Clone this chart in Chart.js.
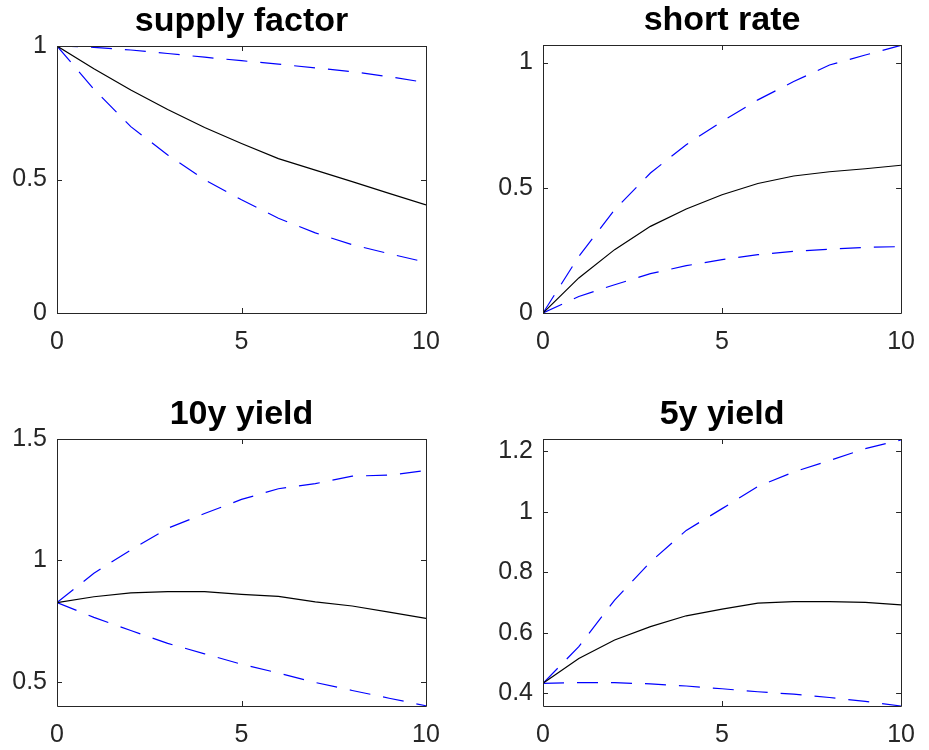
<!DOCTYPE html>
<html>
<head>
<meta charset="utf-8">
<script src="https://cdn.jsdelivr.net/npm/chart.js@4/dist/chart.umd.min.js"></script>
<style>
  html, body { margin: 0; padding: 0; background: #fff; }
  body { width: 929px; height: 750px; position: relative; overflow: hidden; }
  .panel { position: absolute; }
</style>
</head>
<body>
<div class="panel" style="left:0;top:0;width:465px;height:375px"><canvas id="c1"></canvas></div>
<div class="panel" style="left:465px;top:0;width:464px;height:375px"><canvas id="c2"></canvas></div>
<div class="panel" style="left:0;top:375px;width:465px;height:375px"><canvas id="c3"></canvas></div>
<div class="panel" style="left:465px;top:375px;width:464px;height:375px"><canvas id="c4"></canvas></div>
<script>
// horizon (x axis)
const horizon = [0, 1, 2, 3, 4, 5, 6, 7, 8, 9, 10];
const xTicks = [0, 5, 10];

// supply factor
const supplyMid   = [1, 0.915, 0.835, 0.762, 0.695, 0.635, 0.578, 0.535, 0.492, 0.448, 0.405];
const supplyUpper = [1, 0.995, 0.985, 0.972, 0.958, 0.945, 0.932, 0.918, 0.904, 0.885, 0.863];
const supplyLower = [1, 0.838, 0.698, 0.592, 0.499, 0.424, 0.355, 0.300, 0.256, 0.222, 0.190];
const supplyTicks = [0, 0.5, 1];

// short rate
const shortMid   = [0, 0.140, 0.253, 0.346, 0.415, 0.472, 0.517, 0.547, 0.564, 0.576, 0.590];
const shortUpper = [0, 0.226, 0.412, 0.559, 0.672, 0.765, 0.851, 0.924, 0.990, 1.030, 1.069];
const shortLower = [0, 0.066, 0.113, 0.157, 0.189, 0.213, 0.233, 0.246, 0.255, 0.262, 0.265];
const shortTicks = [0, 0.5, 1];

// 10y yield
const y10Mid   = [0.826, 0.850, 0.866, 0.871, 0.871, 0.860, 0.852, 0.829, 0.812, 0.787, 0.761];
const y10Upper = [0.826, 0.947, 1.043, 1.132, 1.193, 1.251, 1.295, 1.316, 1.347, 1.351, 1.370];
const y10Lower = [0.826, 0.765, 0.711, 0.658, 0.615, 0.572, 0.536, 0.497, 0.464, 0.432, 0.401];
const y10Ticks = [0.5, 1, 1.5];

// 5y yield
const y5Mid   = [0.433, 0.515, 0.576, 0.620, 0.656, 0.678, 0.698, 0.703, 0.703, 0.700, 0.692];
const y5Upper = [0.433, 0.554, 0.708, 0.834, 0.938, 1.010, 1.083, 1.131, 1.169, 1.208, 1.237];
const y5Lower = [0.433, 0.435, 0.435, 0.431, 0.424, 0.415, 0.405, 0.397, 0.386, 0.373, 0.358];
const y5Ticks = [0.4, 0.6, 0.8, 1, 1.2];

const FONT = "'Liberation Sans', Arial, Helvetica, sans-serif";
const AXIS_COLOR = '#262626';

// matlab-like box with inward ticks on all four sides
const boxPlugin = {
    id: 'box',
    afterDraw(chart) {
        const { ctx, chartArea: a, scales } = chart;
        const tl = 5;
        ctx.save();
        ctx.strokeStyle = AXIS_COLOR;
        ctx.lineWidth = 1;
        ctx.beginPath();
        ctx.rect(Math.round(a.left) + 0.5, Math.round(a.top) + 0.5,
                 Math.round(a.right - a.left), Math.round(a.bottom - a.top));
        scales.x.ticks.forEach(t => {
            const px = Math.round(scales.x.getPixelForValue(t.value)) + 0.5;
            ctx.moveTo(px, a.bottom); ctx.lineTo(px, a.bottom - tl);
            ctx.moveTo(px, a.top); ctx.lineTo(px, a.top + tl);
        });
        scales.y.ticks.forEach(t => {
            const py = Math.round(scales.y.getPixelForValue(t.value)) + 0.5;
            ctx.moveTo(a.left, py); ctx.lineTo(a.left + tl, py);
            ctx.moveTo(a.right, py); ctx.lineTo(a.right - tl, py);
        });
        ctx.stroke();
        ctx.restore();
    }
};

function fmt(v) {
    return String(+v.toFixed(2));
}

function makeChart(id, title, mid, upper, lower, yMin, yMax, yTicks, box) {
    const ctx = document.getElementById(id).getContext('2d');
    const titleSize = 34, titleLH = 1.1, titleGap = 6;
    const dashed = {
        borderColor: '#0000ff',
        borderWidth: 1.2,
        borderDash: [21, 13],
        pointRadius: 0,
        tension: 0,
        fill: false
    };
    return new Chart(ctx, {
        type: 'line',
        data: {
            labels: horizon,
            datasets: [
                { data: horizon.map((x, i) => ({ x, y: mid[i] })), borderColor: '#000', borderWidth: 1.2, pointRadius: 0, tension: 0, fill: false },
                Object.assign({ data: horizon.map((x, i) => ({ x, y: upper[i] })) }, dashed),
                Object.assign({ data: horizon.map((x, i) => ({ x, y: lower[i] })) }, dashed)
            ]
        },
        options: {
            responsive: true,
            maintainAspectRatio: false,
            animation: false,
            events: [],
            layout: { padding: { left: 0, right: box.right, top: 0, bottom: 0 } },
            plugins: {
                legend: { display: false },
                tooltip: { enabled: false },
                title: {
                    display: true,
                    text: title,
                    fullSize: false,
                    color: '#000',
                    font: { family: FONT, size: titleSize, weight: 'bold', lineHeight: titleLH },
                    padding: { top: box.top - titleSize * titleLH - titleGap, bottom: titleGap }
                }
            },
            scales: {
                x: {
                    type: 'linear',
                    min: 0,
                    max: 10,
                    grid: { display: false, drawTicks: false },
                    border: { display: false },
                    afterBuildTicks: s => { s.ticks = xTicks.map(v => ({ value: v })); },
                    afterFit: s => { s.height = box.bottom; },
                    ticks: {
                        color: AXIS_COLOR,
                        padding: 14,
                        maxRotation: 0,
                        font: { family: FONT, size: 25 },
                        callback: v => fmt(v)
                    }
                },
                y: {
                    type: 'linear',
                    min: yMin,
                    max: yMax,
                    grid: { display: false, drawTicks: false },
                    border: { display: false },
                    afterBuildTicks: s => { s.ticks = yTicks.map(v => ({ value: v })); },
                    afterFit: s => { s.width = box.left; },
                    ticks: {
                        color: AXIS_COLOR,
                        padding: 10,
                        font: { family: FONT, size: 25 },
                        callback: v => fmt(v)
                    }
                }
            }
        },
        plugins: [boxPlugin]
    });
}

makeChart('c1', 'supply factor', supplyMid, supplyUpper, supplyLower, 0, 1, supplyTicks,
          { left: 57, right: 39, top: 46, bottom: 62 });
makeChart('c2', 'short rate', shortMid, shortUpper, shortLower, 0, 1.07, shortTicks,
          { left: 78, right: 17, top: 45, bottom: 62 });
makeChart('c3', '10y yield', y10Mid, y10Upper, y10Lower, 0.4, 1.5, y10Ticks,
          { left: 57, right: 39, top: 64, bottom: 44 });
makeChart('c4', '5y yield', y5Mid, y5Upper, y5Lower, 0.358, 1.24, y5Ticks,
          { left: 78, right: 17, top: 64, bottom: 44 });
</script>
</body>
</html>
